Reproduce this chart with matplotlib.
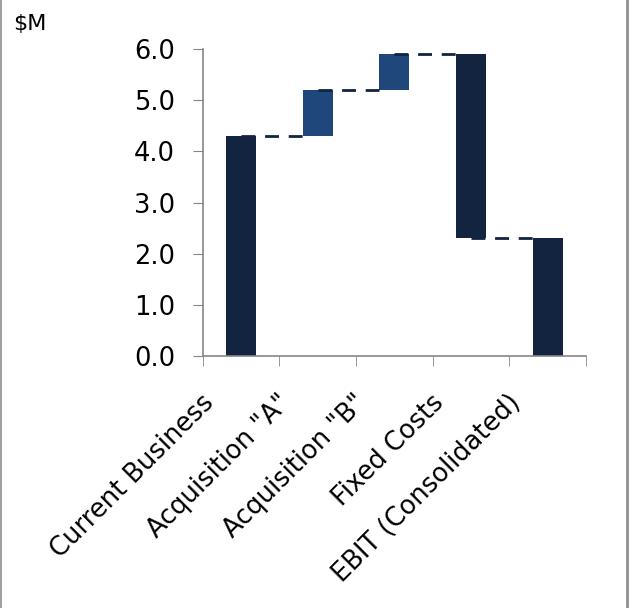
import numpy as np
import matplotlib
matplotlib.use("Agg")
import matplotlib.pyplot as plt
from matplotlib.lines import Line2D
from matplotlib.transforms import ScaledTranslation

categories = ['Current Business', 'Acquisition "A"', 'Acquisition "B"',
              'Fixed Costs', 'EBIT (Consolidated)']
changes = [4.3, 0.9, 0.7, -3.6, 2.3]
is_total = [True, False, False, True, True]
yticks = [0.0, 1.0, 2.0, 3.0, 4.0, 5.0, 6.0]

dark = "#12243f"
blue = "#1f477b"
gray = "#868686"

# waterfall: running level before / after each step
ends = []
bottoms = []
level = 0.0
for i, v in enumerate(changes):
    if i == len(changes) - 1:
        bottoms.append(0.0)
        ends.append(v)
        continue
    bottoms.append(level if v >= 0 else level + v)
    level = level + v
    ends.append(level)
heights = [abs(c) for c in changes]
colors = [dark if t else blue for t in is_total]

fig = plt.figure(figsize=(6.32, 6.08), dpi=100)
ax = fig.add_axes([0.321, 0.4145, 0.606, 0.5045])

x = np.arange(len(categories))
w = 0.39
ax.bar(x, heights, bottom=bottoms, width=w, color=colors, zorder=2)

# dashed connectors from bar centre to next bar's left edge
for i in range(len(categories) - 1):
    ax.plot([x[i], x[i + 1] - w / 2], [ends[i], ends[i]], color=dark,
            lw=2, dashes=(5, 3.5), zorder=3)

ax.set_xlim(-0.5, len(categories) - 0.5)
ax.set_ylim(0, 6)
ax.set_yticks(yticks)
ax.set_yticklabels([f"{t:.1f}" for t in yticks], fontsize=18.5)

ax.set_xticks(x)
ax.set_xticks(np.arange(-0.5, len(categories), 1.0), minor=True)
ax.set_xticklabels(categories, fontsize=18.5, rotation=45, ha="right", va="top")
ax.tick_params(axis="x", which="major", length=0, pad=24)
ax.tick_params(axis="x", which="minor", length=7, color=gray, direction="out")
ax.tick_params(axis="y", length=7, color=gray, pad=13)

off = ScaledTranslation(-0.22, 0, fig.dpi_scale_trans)
for lbl in ax.get_xticklabels():
    lbl.set_transform(lbl.get_transform() + off)

for s in ["top", "right"]:
    ax.spines[s].set_visible(False)
for s in ["left", "bottom"]:
    ax.spines[s].set_color(gray)
    ax.spines[s].set_linewidth(1.2)

fig.text(0.021, 0.96, "$M", fontsize=16, ha="left", va="center")

# chart frame
fig.add_artist(Line2D([0.0008, 0.0008], [0, 1], color="#a0a0a0", lw=1.5,
                      transform=fig.transFigure))
fig.add_artist(Line2D([0.9915, 0.9915], [0, 1], color="#909090", lw=2,
                      transform=fig.transFigure))

fig.savefig("out.png", dpi=100)
